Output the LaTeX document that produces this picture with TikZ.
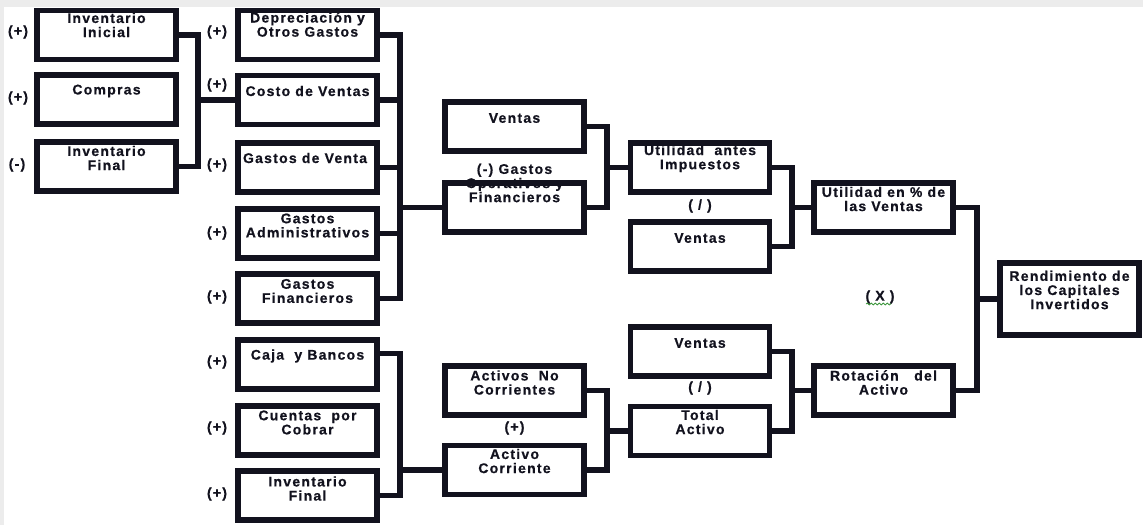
\documentclass[tikz,border=0pt]{standalone}
\usepackage{fontspec}
\setmainfont{Liberation Sans}
\newfontfamily\lbl[LetterSpace=9, BoldFeatures={FakeBold=0.6}]{Liberation Sans}
\usetikzlibrary{calc,decorations.pathmorphing}
\definecolor{ink}{RGB}{18,18,30}
\definecolor{band}{RGB}{236,236,236}
\definecolor{squig}{RGB}{60,150,60}
\begin{document}
\begin{tikzpicture}[x=0.75pt,y=-0.75pt,
  box/.style={draw=ink, line width=4.2pt, minimum width=104.5pt, minimum height=37pt, inner sep=0pt},
  txt/.style={font={\lbl\bfseries\fontsize{10.5}{10.6}\selectfont}, text=ink, align=center, inner sep=0pt},
  link/.style={draw=ink, line width=4.2pt}]
\useasboundingbox (0,0) rectangle (1143,525);
\fill[band] (0,0) rectangle (1143,7);
\fill[band] (0,0) rectangle (4,525);

% texts
\node[txt] (t1) at (106.5,25) {Inventario\\Inicial};
\node[txt] (t2) at (106.5,91) {Compras};
\node[txt] (t3) at (106.5,158) {Inventario\\Final};
\node[txt] (t4) at (307.5,24.5) {Depreciación y\\Otros Gastos};
\node[txt] (t5) at (307.5,91) {Costo de Ventas};
\node[txt] (t6) at (305,158) {Gastos de Venta};
\node[txt] (t7) at (307.5,225.5) {Gastos\\Administrativos};
\node[txt] (t8) at (307.5,291) {Gastos\\Financieros};
\node[txt] (t9) at (307.5,356) {Caja\ \ y Bancos};
\node[txt] (t10) at (307.5,422.5) {Cuentas\ \ por\\Cobrar};
\node[txt] (t11) at (307.5,488.5) {Inventario\\Final};
\node[txt] (t12) at (514.5,118) {Ventas};
\node[txt] (t13) at (514.5,183) {(-) Gastos\\Operativos y\\Financieros};
\node[txt] (t14) at (514.5,382.5) {Activos\ \ No\\Corrientes};
\node[txt] (t15) at (514.5,428) {(+)};
\node[txt] (t16) at (514.5,461) {Activo\\Corriente};
\node[txt] (t17) at (700,158.5) {Utilidad\ \ antes\\Impuestos};
\node[txt] (t18) at (700,206) {( / )};
\node[txt] (t19) at (700,238) {Ventas};
\node[txt] (t20) at (700,343) {Ventas};
\node[txt] (t21) at (700,388) {( / )};
\node[txt] (t22) at (700,422) {Total\\Activo};
\node[txt] (t23) at (883.5,199) {Utilidad en \% de\\las Ventas};
\node[txt] (t24) at (880,297) {( X )};
\node[txt] (t25) at (883.5,382.5) {Rotación\ \ \ del\\Activo};
\node[txt] (t26) at (1069.5,290) {Rendimiento de\\los Capitales\\Invertidos};

% signs
\node[txt] (s1) at (18,32) {(+)};
\node[txt] (s2) at (18,98) {(+)};
\node[txt] (s3) at (17,165) {(-)};
\node[txt] (s4) at (217,32) {(+)};
\node[txt] (s5) at (217,85) {(+)};
\node[txt] (s6) at (217,165) {(+)};
\node[txt] (s7) at (217,233) {(+)};
\node[txt] (s8) at (217,297) {(+)};
\node[txt] (s9) at (217,362) {(+)};
\node[txt] (s10) at (217,428) {(+)};
\node[txt] (s11) at (217,494) {(+)};

\draw[squig, line width=0.6pt, decorate, decoration={snake,amplitude=0.7pt,segment length=3pt}] (866,304) -- (891,304);

% boxes
\node[box] (ii) at (106.5,35) {};
\node[box] (co) at (106.5,99.5) {};
\node[box] (if) at (106.5,166.5) {};
\node[box] (dep) at (307.5,35) {};
\node[box] (cv) at (307.5,100) {};
\node[box] (gv) at (307.5,167.5) {};
\node[box] (ga) at (307.5,233.5) {};
\node[box] (gf) at (307.5,298.5) {};
\node[box] (cb) at (307.5,364.5) {};
\node[box] (cc) at (307.5,430.5) {};
\node[box] (inf) at (307.5,495.5) {};
\node[box] (v1) at (514.5,126.5) {};
\node[box] (go) at (514.5,207.5) {};
\node[box] (anc) at (514.5,390.5) {};
\node[box] (ac) at (514.5,470) {};
\node[box] (ua) at (700,167.5) {};
\node[box] (v2) at (700,246.5) {};
\node[box] (v3) at (700,351.5) {};
\node[box] (ta) at (700,431) {};
\node[box] (up) at (883.5,207.5) {};
\node[box] (ra) at (883.5,390.5) {};
\node[box, minimum height=54.3pt] (re) at (1069.5,299) {};

% junctions
\coordinate (j1) at (198,100);
\coordinate (j2) at (400,207.5);
\coordinate (j3) at (400,470);
\coordinate (j4) at (607,167.5);
\coordinate (j5) at (607,431);
\coordinate (j6) at (792,207.5);
\coordinate (j7) at (792,390.5);
\coordinate (j8) at (977,299);

% connectors
\draw[link] (ii.east) -| (j1) |- (if.east);
\draw[link] (j1) -- (cv.west);
\draw[link] (dep.east) -| (j2) |- (gf.east);
\draw[link] (cv.east) -- (cv.east -| j2);
\draw[link] (gv.east) -- (gv.east -| j2);
\draw[link] (ga.east) -- (ga.east -| j2);
\draw[link] (j2) -- (go.west);
\draw[link] ($(cb.east)+(0,-11)$) -| (j3) |- (inf.east);
\draw[link] (j3) -- (ac.west);
\draw[link] (v1.east) -| (j4) |- (go.east);
\draw[link] (j4) -- (ua.west);
\draw[link] (anc.east) -| (j5) |- (ac.east);
\draw[link] (j5) -- (ta.west);
\draw[link] (ua.east) -| (j6) |- (v2.east);
\draw[link] (j6) -- (up.west);
\draw[link] (v3.east) -| (j7) |- (ta.east);
\draw[link] (j7) -- (ra.west);
\draw[link] (up.east) -| (j8) |- (ra.east);
\draw[link] (j8) -- (re.west);
\end{tikzpicture}
\end{document}
